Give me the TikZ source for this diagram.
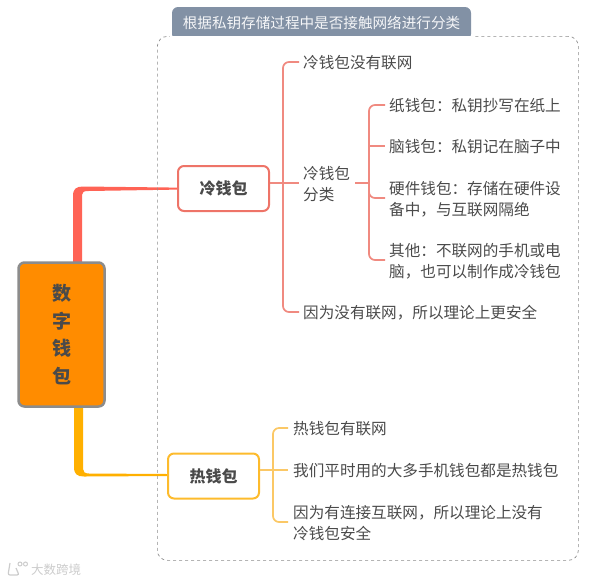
\documentclass[tikz,border=0pt]{standalone}
\usepackage{fontspec}
\setmainfont{Noto Sans CJK SC}
\usetikzlibrary{calc}
\definecolor{redline}{HTML}{F08A80}
\definecolor{redbox}{HTML}{EE7468}
\definecolor{redthick}{HTML}{FF6355}
\definecolor{yelline}{HTML}{FBC866}
\definecolor{yelbox}{HTML}{FDBB2C}
\definecolor{yelthick}{HTML}{FFB000}
\definecolor{ink}{HTML}{4A4A4A}
\definecolor{slate}{HTML}{8291A5}
\definecolor{rootfill}{HTML}{FF8C00}
\tikzset{
 x=1pt,y=-1pt,
 leaf/.style={anchor=west,inner sep=0pt,text=ink,font=\fontsize{15.6}{21}\selectfont,align=left},
 topic/.style={draw,line width=2pt,rounded corners=6pt,fill=white,text=ink,minimum width=91pt,minimum height=45pt,inner sep=0pt,font=\fontsize{16}{20}\selectfont\bfseries},
 redbr/.style={draw=redline,line width=1.7pt,rounded corners=6pt},
 yelbr/.style={draw=yelline,line width=1.7pt,rounded corners=6pt},
}
\begin{document}
\begin{tikzpicture}
\useasboundingbox (0,0) rectangle (609,582);
% thick connectors (drawn under the nodes)
\fill[redthick] (73,270) -- (73,196) .. controls (73,189) and (76,186.5) .. (83,186.5) -- (178,187.6) -- (178,189.6) -- (88,191) .. controls (84,191) and (82,192) .. (82,195) -- (82,270) -- cycle;
\fill[yelthick] (74,400) -- (74,467) .. controls (74,474) and (77,476.5) .. (84,476.5) -- (168,476) -- (168,474) -- (89,473.5) .. controls (85,473.5) and (83,472) .. (83,469) -- (83,400) -- cycle;
% group frame
\node[draw=black!45,dashed,line width=0.7pt,rounded corners=10pt,minimum width=421pt,minimum height=524pt,inner sep=0pt,anchor=north west] (frame) at (157,36) {};
\fill[slate,rounded corners=6pt] (172,40) -- (172,7) -- (471,7) -- (471,40) -- cycle;
\fill[white] (170,36) rectangle (473,42);
\node[text=white!92!slate,inner sep=0pt,font=\fontsize{14.6}{16}\selectfont] (grouplabel) at (321.5,22.5) {根据私钥存储过程中是否接触网络进行分类};
% topics
\node[topic,draw=redbox] (cold) at (223.5,188.5) {冷钱包};
\node[topic,draw=yelbox] (hot) at (213.5,476) {热钱包};
\node[draw=black!45,line width=2.5pt,rounded corners=6pt,fill=rootfill,minimum width=86pt,minimum height=144pt,inner sep=0pt,text=ink,font=\fontsize{19}{27.5}\selectfont\bfseries,align=center] (root) at (61.5,334.5) {数\\字\\钱\\包};
% leaves cold
\node[leaf] (c1) at (303,63) {冷钱包没有联网};
\node[leaf] (c2) at (303,184) {冷钱包\\分类};
\node[leaf] (c3) at (303,313) {因为没有联网，所以理论上更安全};
\node[leaf] (k1) at (389,106) {纸钱包：私钥抄写在纸上};
\node[leaf] (k2) at (389,147) {脑钱包：私钥记在脑子中};
\node[leaf] (k3) at (389,199.5) {硬件钱包：存储在硬件设\\备中，与互联网隔绝};
\node[leaf] (k4) at (389,261.5) {其他：不联网的手机或电\\脑，也可以制作成冷钱包};
% leaves hot
\node[leaf] (h1) at (293,429) {热钱包有联网};
\node[leaf] (h2) at (293,471) {我们平时用的大多手机钱包都是热钱包};
\node[leaf] (h3) at (293,523) {因为有连接互联网，所以理论上没有\\冷钱包安全};
% brackets
\coordinate (cbus) at (283,183);
\draw[redbr] ($(c1.west)+(-4,-1)$) -- (283,62) -- (283,312) -- ($(c3.west)+(-4,-1)$);
\draw[draw=redline,line width=1.7pt] (cold.east |- cbus) -- (cbus) -- ($(c2.west)+(-4,-1)$);
\coordinate (kbus) at (369,183);
\draw[draw=redline,line width=1.7pt] (355,183) -- (kbus);
\draw[redbr] ($(k1.west)+(-4,-1)$) -- (369,105) -- (369,260) -- (385,260);
\draw[draw=redline,line width=1.7pt] (369,146) -- ($(k2.west)+(-4,-1)$);
\draw[redbr] (369,185) -- (369,198) -- (385,198);
\coordinate (hbus) at (273,470);
\draw[yelbr] ($(h1.west)+(-5,-1)$) -- (273,428) -- (273,522) -- (288,522);
\draw[draw=yelline,line width=1.7pt] (hot.east |- hbus) -- (hbus) -- ($(h2.west)+(-5,-1)$);
% watermark
\node[inner sep=0pt,text=black!20,font=\fontsize{12.5}{14}\selectfont] (mark) at (56,570) {大数跨境};
\draw[black!20,line width=1.2pt,rounded corners=2pt] (10,563) -- (8,575) -- (19,575) -- (16,568);
\draw[black!20,line width=1pt] (20,564) circle (2) (25.5,564) circle (2);
\end{tikzpicture}
\end{document}
